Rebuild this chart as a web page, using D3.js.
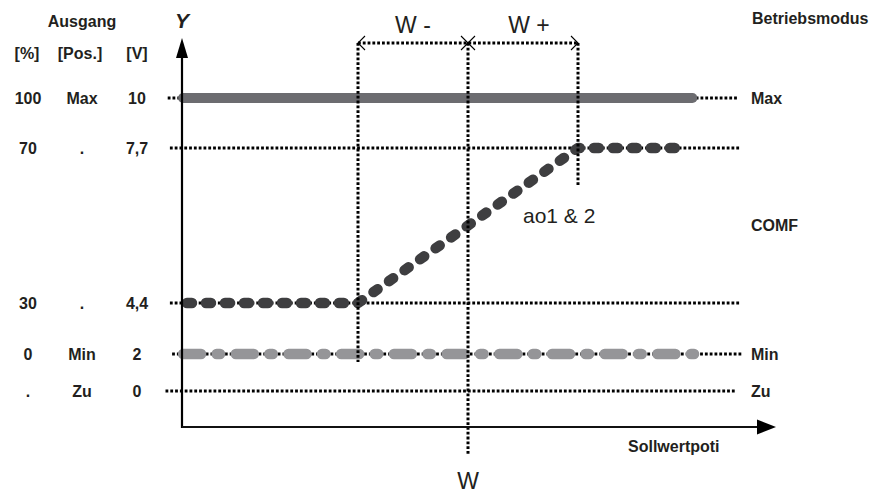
<!DOCTYPE html>
<html>
<head>
<meta charset="utf-8">
<script src="https://cdn.jsdelivr.net/npm/d3@7"></script>
<style>
  html, body { margin: 0; padding: 0; background: #fff; }
  svg { display: block; }
  text { font-family: "Liberation Sans", Arial, Helvetica, sans-serif; fill: #231f20; }
  .b { font-weight: bold; font-size: 16px; }
</style>
</head>
<body>
<svg id="chart" width="883" height="493"></svg>
<script>
// ---------- data ----------
// Output levels (volts) and their row labels
const levels      = [10, 7.7, 4.4, 2, 0];
const pctLabels   = ["100", "70", "30", "0", "."];
const posLabels   = ["Max", ".", ".", "Min", "Zu"];
const voltLabels  = ["10", "7,7", "4,4", "2", "0"];
// dotted reference lines per level (x in setpoint units, W = 0, W- = -1, W+ = +1)
const gridStart   = [-2.73, -2.71, -2.71, -2.69, -2.75];
const gridEnd     = [2.45, 2.47, 2.47, 2.49, 2.43];
// operating-mode labels on the right
const modeNames   = ["Max", "COMF", "Min", "Zu"];
const modeLevels  = [10, 6.05, 2, 0];
// series
const maxX = [-2.59, 2.04];   const maxY = [10, 10];
const aoX  = [-2.555, -1, 1, 1.945]; const aoY = [4.4, 4.4, 7.7, 7.7];
const minX = [-2.59, 2.055];  const minY = [2, 2];
// setpoint markers
const markX     = [-1, 0, 1];
const markNames = ["W-", "W", "W+"];
const markBottom = [1.57, -3.46, 6.89];
const dimTop = 12.53;

// ---------- scales ----------
const x = d3.scaleLinear().domain([-1, 1]).range([358, 578]);
const y = d3.scaleLinear().domain([0, 2, 4.4, 7.7, 10]).range([391, 354, 303, 148, 98]);

const svg = d3.select("#chart");
const axisX0 = 182, axisY0 = 427, axisXEnd = 776, axisYTop = 38;

const dotted = sel => sel.attr("stroke", "#000").attr("stroke-width", 3)
  .attr("stroke-dasharray", "2.8,2").attr("fill", "none");

// horizontal dotted level lines
svg.append("g").selectAll("line").data(levels).join("line")
  .attr("x1", (d, i) => x(gridStart[i])).attr("x2", (d, i) => x(gridEnd[i]))
  .attr("y1", d => y(d)).attr("y2", d => y(d))
  .call(dotted);

// Max line (solid grey)
const line = d3.line().x(d => x(d[0])).y(d => y(d[1]));
svg.append("path").datum(d3.zip(maxX, maxY)).attr("d", line)
  .attr("stroke", "#6c6c70").attr("stroke-width", 10).attr("stroke-linecap", "round").attr("fill", "none");

// Min line (light grey dash-dot)
svg.append("path").datum(d3.zip(minX, minY)).attr("d", line)
  .attr("stroke", "#959598").attr("stroke-width", 10.5).attr("stroke-linecap", "round")
  .attr("stroke-dasharray", "18,15.5,3.5,15.7").attr("fill", "none");

// ao1 & 2 curve (dark dashes)
svg.append("path").datum(d3.zip(aoX, aoY)).attr("d", line)
  .attr("stroke", "#3e3e40").attr("stroke-width", 10.5).attr("stroke-linecap", "round")
  .attr("stroke-linejoin", "round")
  .attr("stroke-dasharray", "5,14").attr("fill", "none");

// vertical dotted markers
svg.append("g").selectAll("line").data(markX).join("line")
  .attr("x1", d => x(d)).attr("x2", d => x(d))
  .attr("y1", y(dimTop)).attr("y2", (d, i) => y(markBottom[i]))
  .call(dotted);

// dimension line on top
const dimY = y(dimTop);
svg.append("line").attr("x1", x(-1)).attr("x2", x(1)).attr("y1", dimY).attr("y2", dimY).call(dotted);
const thin = sel => sel.attr("stroke", "#000").attr("stroke-width", 1.1).attr("fill", "none");
svg.append("path").attr("d", `M${x(-1)+7},${dimY-7} L${x(-1)},${dimY} L${x(-1)+7},${dimY+7}`).call(thin);
svg.append("path").attr("d", `M${x(1)-7},${dimY-7} L${x(1)},${dimY} L${x(1)-7},${dimY+7}`).call(thin);
svg.append("path").attr("d", `M${x(0)-7},${dimY-7} L${x(0)+7},${dimY+7} M${x(0)-7},${dimY+7} L${x(0)+7},${dimY-7}`).call(thin);

// axes
svg.append("line").attr("x1", axisX0).attr("x2", axisX0).attr("y1", axisYTop + 18).attr("y2", axisY0 + 1)
  .attr("stroke", "#000").attr("stroke-width", 2.2);
svg.append("path").attr("d", `M${axisX0},${axisYTop} L${axisX0-6},${axisYTop+20} L${axisX0+6},${axisYTop+20} Z`).attr("fill", "#000");
svg.append("line").attr("x1", axisX0).attr("x2", axisXEnd - 18).attr("y1", axisY0).attr("y2", axisY0)
  .attr("stroke", "#111").attr("stroke-width", 1.8);
svg.append("path").attr("d", `M${axisXEnd},${axisY0} L${axisXEnd-19},${axisY0-7.5} L${axisXEnd-19},${axisY0+7.5} Z`).attr("fill", "#000");

// ---------- text ----------
svg.append("text").attr("class", "b").attr("x", 82).attr("y", 27).attr("text-anchor", "middle").text("Ausgang");
[["[%]", 27], ["[Pos.]", 80], ["[V]", 137]].forEach(([t, cx]) =>
  svg.append("text").attr("class", "b").attr("x", cx).attr("y", 59).attr("text-anchor", "middle").text(t));

const cols = [[pctLabels, 28], [posLabels, 82], [voltLabels, 137]];
cols.forEach(([labels, cx]) => {
  svg.append("g").selectAll("text").data(levels).join("text")
    .attr("class", "b").attr("x", cx).attr("y", d => y(d)).attr("dy", "0.36em")
    .attr("text-anchor", "middle").text((d, i) => labels[i]);
});

svg.append("text").attr("x", axisX0).attr("y", 28).attr("text-anchor", "middle")
  .style("font-weight", "bold").style("font-style", "italic").style("font-size", "21px").text("Y");

svg.append("text").attr("class", "b").attr("x", 752).attr("y", 24).text("Betriebsmodus");
svg.append("g").selectAll("text").data(modeLevels).join("text")
  .attr("class", "b").attr("x", 751).attr("y", d => y(d)).attr("dy", "0.36em")
  .text((d, i) => modeNames[i]);

svg.append("text").attr("class", "b").attr("x", 628).attr("y", 452).text("Sollwertpoti");

svg.append("text").attr("x", (x(-1) + x(0)) / 2).attr("y", 33).attr("text-anchor", "middle")
  .style("font-size", "23px").text("W -");
svg.append("text").attr("x", (x(0) + x(1)) / 2 + 6).attr("y", 33).attr("text-anchor", "middle")
  .style("font-size", "23px").text("W +");
svg.append("text").attr("x", x(0)).attr("y", 489).attr("text-anchor", "middle")
  .style("font-size", "23px").text("W");
svg.append("text").attr("x", 523).attr("y", 223).style("font-size", "21px").text("ao1 & 2");
</script>
</body>
</html>
